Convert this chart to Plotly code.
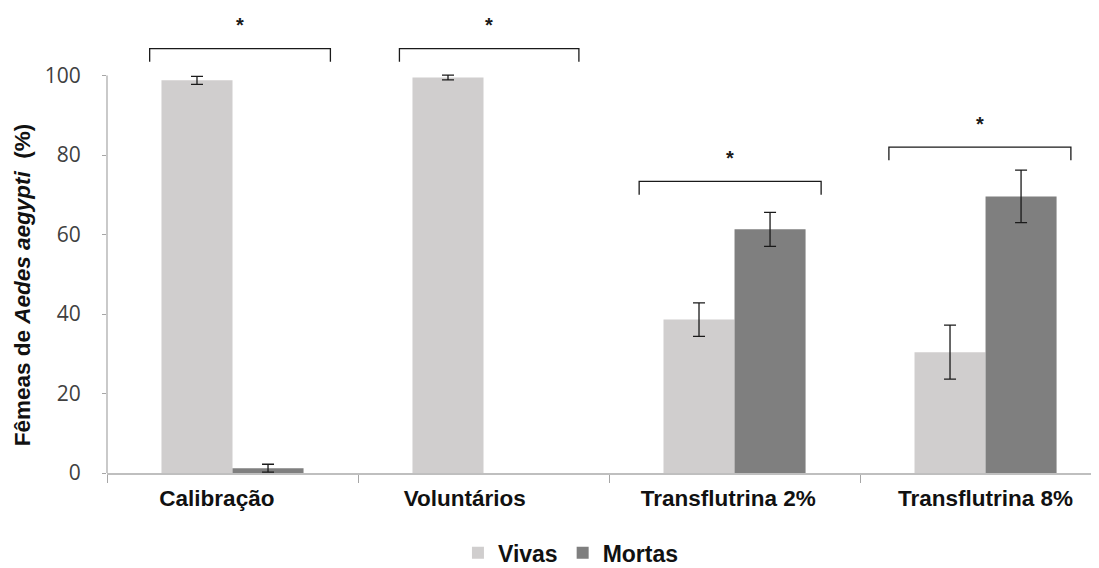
import plotly.graph_objects as go

categories = ["Calibração", "Voluntários", "Transflutrina 2%", "Transflutrina 8%"]
vivas = [98.8, 99.5, 38.6, 30.4]
vivas_err = [1.0, 0.6, 4.2, 6.8]
mortas = [1.2, 0.0, 61.3, 69.6]
mortas_err = [1.0, None, 4.3, 6.6]

# significance brackets: (category index, left offset, right offset, bracket y, tick bottom y, star y)
brackets = [
    (0, -0.33, 0.39, 106.8, 103.5, 112.8),
    (1, -0.335, 0.38, 106.8, 103.5, 112.8),
    (2, -0.38, 0.345, 73.4, 70.0, 79.3),
    (3, -0.385, 0.34, 82.0, 78.7, 87.9),
]

col_vivas = "#d0cece"
col_mortas = "#7f7f7f"
font_bold = "Liberation Sans, Arial"

# the category labels in the original sit slightly left of centre: pad with trailing nbsp
label_pad = [5, 6, 2, 0]
ticktext = [f"<b>{c}</b>" + "\u00a0" * p for c, p in zip(categories, label_pad)]

# points without an error bar are drawn as empty (value 0 -> no visible bar)
mortas_plot = [v if e is not None else None for v, e in zip(mortas, mortas_err)]

fig = go.Figure()
fig.add_trace(go.Bar(
    name="<b>Vivas</b>", x=categories, y=vivas, marker_color=col_vivas,
    error_y=dict(type="data", array=vivas_err, color="#1a1a1a", thickness=1.3, width=6),
))
fig.add_trace(go.Bar(
    name="<b>Mortas</b>", x=categories, y=mortas_plot, marker_color=col_mortas,
    error_y=dict(type="data", array=[e if e is not None else 0 for e in mortas_err],
                 color="#1a1a1a", thickness=1.3, width=6),
))

for (ci, lo, hi, yb, yt, ys) in brackets:
    x0, x1 = ci + lo, ci + hi
    fig.add_shape(type="path",
                  path=f"M {x0},{yt} L {x0},{yb} L {x1},{yb} L {x1},{yt}",
                  xref="x", yref="y", line=dict(color="#1a1a1a", width=1.3))
    fig.add_annotation(x=(x0 + x1) / 2, y=ys, xref="x", yref="y", text="<b>*</b>",
                       showarrow=False, font=dict(family=font_bold, size=20, color="#1a1a1a"))

# y axis line from 0 to 100
fig.add_shape(type="line", xref="paper", yref="y", x0=0, x1=0, y0=0, y1=100,
              line=dict(color="#a6a6a6", width=1.2))

# y axis title (centred on the 0-100 span)
fig.add_annotation(text="<b>Fêmeas de <i>Aedes aegypti</i>  (%)</b>", textangle=-90,
                   xref="paper", yref="y", x=-0.085, y=47.4, xanchor="center", yanchor="middle",
                   showarrow=False, font=dict(family=font_bold, size=22.5, color="#111111"))

# page body has an 8px margin, so the figure is sized/offset to compensate
fig.update_layout(
    template="none",
    width=1091, height=560,
    margin=dict(l=99, r=0, t=0, b=95, pad=0),
    plot_bgcolor="white", paper_bgcolor="white",
    barmode="group", bargap=0.434, bargroupgap=0,
    showlegend=True,
    legend=dict(orientation="h", xref="container", yref="container",
                x=0.516, xanchor="center", y=0.027, yanchor="middle",
                font=dict(family=font_bold, size=23, color="#111111"),
                traceorder="normal", itemwidth=30),
    xaxis=dict(
        type="category", range=[-0.5, 3.452], automargin=False,
        showline=True, linecolor="#bfbfbf", linewidth=1.8,
        ticks="outside", tickson="boundaries", ticklen=8, tickcolor="#a6a6a6", tickwidth=1,
        tickfont=dict(family=font_bold, size=22.5, color="#111111"),
        tickvals=categories, ticktext=ticktext,
        ticklabelstandoff=4,
        showgrid=False, zeroline=False,
    ),
    yaxis=dict(
        range=[0, 117], tickvals=[0, 20, 40, 60, 80, 100], automargin=False,
        showline=False, showgrid=False, zeroline=False,
        ticks="outside", ticklen=4, tickcolor="#a6a6a6",
        tickfont=dict(family="Open Sans, Liberation Sans", size=21, color="#404040"),
        ticklabelstandoff=17,
    ),
)

fig.write_html("out.html")
